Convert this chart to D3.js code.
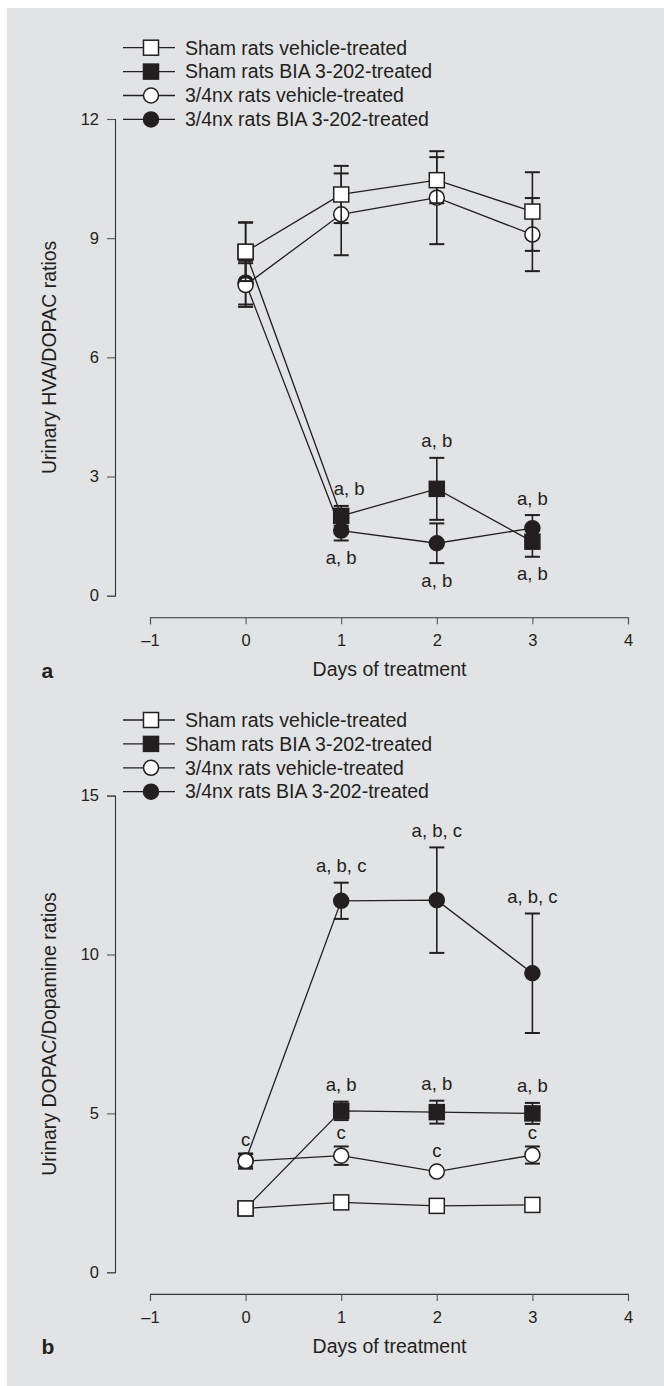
<!DOCTYPE html>
<html>
<head>
<meta charset="utf-8">
<script src="https://cdn.jsdelivr.net/npm/d3@7"></script>
<style>
  html, body { margin: 0; padding: 0; background: #fff; }
  svg { display: block; }
  text { font-family: "Liberation Sans", Arial, Helvetica, sans-serif; fill: #231f20; }
</style>
</head>
<body>
<div id="chart"></div>
<script>
// ---- data ----
const days   = [0, 1, 2, 3]
const xTicks = [-1, 0, 1, 2, 3, 4]

const seriesNames = [
  "Sham rats vehicle-treated",
  "Sham rats BIA 3-202-treated",
  "3/4nx rats vehicle-treated",
  "3/4nx rats BIA 3-202-treated"
]

// panel a: urinary HVA/DOPAC ratios (mean, sem)
const hvaShamVeh    = [8.66, 10.10, 10.46, 9.67]
const hvaShamVehErr = [0.74, 0.72, 0.58, 0.99]
const hvaShamBia    = [8.65, 2.01, 2.69, 1.36]
const hvaShamBiaErr = [0.74, 0.25, 0.78, 0.38]
const hvaNxVeh      = [7.82, 9.60, 10.02, 9.09]
const hvaNxVehErr   = [0.55, 1.03, 1.17, 0.92]
const hvaNxBia      = [7.88, 1.64, 1.32, 1.70]
const hvaNxBiaErr   = [0.55, 0.25, 0.50, 0.33]
const hvaTicks      = [0, 3, 6, 9, 12]

// panel b: urinary DOPAC/dopamine ratios (mean, sem)
const dopShamVeh    = [2.01, 2.20, 2.09, 2.12]
const dopShamVehErr = [0.10, 0.10, 0.10, 0.10]
const dopShamBia    = [2.01, 5.08, 5.04, 5.00]
const dopShamBiaErr = [0.10, 0.29, 0.36, 0.33]
const dopNxVeh      = [3.50, 3.67, 3.17, 3.69]
const dopNxVehErr   = [0.24, 0.29, 0.00, 0.27]
const dopNxBia      = [3.52, 11.69, 11.71, 9.41]
const dopNxBiaErr   = [0.20, 0.57, 1.66, 1.88]
const dopTicks      = [0, 5, 10, 15]

// significance letters: series index, day, side of the point
const hvaNotes = [
  {s: 1, day: 1, side: "above", text: "a, b"},
  {s: 3, day: 1, side: "below", text: "a, b"},
  {s: 1, day: 2, side: "above", text: "a, b"},
  {s: 3, day: 2, side: "below", text: "a, b"},
  {s: 3, day: 3, side: "above", text: "a, b"},
  {s: 1, day: 3, side: "below", text: "a, b"}
]
const dopNotes = [
  {s: 3, day: 1, side: "above", text: "a, b, c"},
  {s: 3, day: 2, side: "above", text: "a, b, c"},
  {s: 3, day: 3, side: "above", text: "a, b, c"},
  {s: 1, day: 1, side: "above", text: "a, b"},
  {s: 1, day: 2, side: "above", text: "a, b"},
  {s: 1, day: 3, side: "above", text: "a, b"},
  {s: 2, day: 0, side: "above", text: "c"},
  {s: 2, day: 1, side: "above", text: "c"},
  {s: 2, day: 2, side: "above", text: "c"},
  {s: 2, day: 3, side: "above", text: "c"}
]

// ---- layout ----
const width  = 664
const height = 1386
const ink    = "#231f20"
const markerSize = 15
const capHalf    = 7.5

// marker style per series index: square/circle, open/filled
const markerShape = ["square", "square", "circle", "circle"]
const markerFill  = ["#fff", ink, "#fff", ink]
// filled series first so open markers sit on top
const drawOrder   = [3, 1, 2, 0]

const panels = [
  {
    label: "a", offset: 0, legendTop: 47.7,
    yTitle: "Urinary HVA/DOPAC ratios", ticks: hvaTicks,
    values: [hvaShamVeh, hvaShamBia, hvaNxVeh, hvaNxBia],
    errors: [hvaShamVehErr, hvaShamBiaErr, hvaNxVehErr, hvaNxBiaErr],
    notes: hvaNotes, nudge: {"1-1-above": 8}
  },
  {
    label: "b", offset: 676.6, legendTop: 43.4,
    yTitle: "Urinary DOPAC/Dopamine ratios", ticks: dopTicks,
    values: [dopShamVeh, dopShamBia, dopNxVeh, dopNxBia],
    errors: [dopShamVehErr, dopShamBiaErr, dopNxVehErr, dopNxBiaErr],
    notes: dopNotes, nudge: {}
  }
]

const svg = d3.select("#chart")
  .append("svg")
  .attr("width", width)
  .attr("height", height)

// grey page panel
svg.append("rect")
  .attr("x", 7).attr("y", 8)
  .attr("width", width - 7).attr("height", height - 8)
  .attr("fill", "#e2e3e5")

let x = d3.scaleLinear().domain([-1, 4]).range([150, 628])

function drawMarker(g, shape, fill, cx, cy) {
  if (shape == "square") {
    g.append("rect")
      .attr("x", cx - markerSize / 2).attr("y", cy - markerSize / 2)
      .attr("width", markerSize).attr("height", markerSize)
      .attr("fill", fill).attr("stroke", ink).attr("stroke-width", 1.5)
  } else {
    g.append("circle")
      .attr("cx", cx).attr("cy", cy).attr("r", markerSize / 2)
      .attr("fill", fill).attr("stroke", ink).attr("stroke-width", 1.5)
  }
}

function styleAxis(ag) {
  ag.attr("font-size", 16.5).attr("font-family", null)
  ag.select(".domain").attr("stroke", "#333").attr("stroke-width", 1.1)
  ag.selectAll(".tick line").attr("stroke", "#555").attr("stroke-width", 1.1)
  ag.selectAll(".tick text")
    .style("font-size", "16.5px")
    .style("fill", ink)
}

panels.forEach(function(p) {
  let g = svg.append("g").attr("transform", "translate(0," + p.offset + ")")

  let yMax = d3.max(p.ticks)
  let y = d3.scaleLinear().domain([0, yMax]).range([595.7, 119])

  // y axis
  let yAxis = d3.axisLeft(y)
    .tickValues(p.ticks)
    .tickSizeOuter(0)
    .tickSize(8)
    .tickPadding(8)

  let yg = g.append("g")
    .attr("transform", "translate(115,0)")
    .call(yAxis)
  styleAxis(yg)

  // x axis
  let xAxis = d3.axisBottom(x)
    .tickValues(xTicks)
    .tickSizeOuter(0)
    .tickSize(7)
    .tickPadding(10)
    .tickFormat(function(d){ return d < 0 ? "\u2013" + Math.abs(d) : d })

  let xg = g.append("g")
    .attr("transform", "translate(0,617.3)")
    .call(xAxis)
  styleAxis(xg)

  // titles
  g.append("text")
    .attr("x", 389.5).attr("y", 676.3)
    .attr("text-anchor", "middle")
    .style("font-size", "19.5px")
    .text("Days of treatment")

  g.append("text")
    .attr("transform", "translate(56," + y(yMax / 2) + ") rotate(-90)")
    .attr("text-anchor", "middle")
    .style("font-size", "19.5px")
    .text(p.yTitle)

  g.append("text")
    .attr("x", 41.5).attr("y", 677.5)
    .style("font-size", "21px")
    .style("font-weight", "bold")
    .text(p.label)

  // series: line, error bars, markers
  drawOrder.forEach(function(s) {
    let vals = p.values[s]
    let errs = p.errors[s]
    let pts = days.map(function(d, i){ return {x: d, y: vals[i], e: errs[i]} })

    let line = d3.line()
      .x(function(d){ return x(d.x) })
      .y(function(d){ return y(d.y) })

    g.append("path")
      .datum(pts)
      .attr("d", line)
      .attr("fill", "none")
      .attr("stroke", ink)
      .attr("stroke-width", 1.3)

    pts.forEach(function(d) {
      if (d.e > 0) {
        let cx = x(d.x)
        let top = y(d.y + d.e)
        let bot = y(d.y - d.e)
        g.append("line")
          .attr("x1", cx).attr("x2", cx).attr("y1", top).attr("y2", bot)
          .attr("stroke", ink).attr("stroke-width", 1.6)
        ;[top, bot].forEach(function(cy) {
          g.append("line")
            .attr("x1", cx - capHalf).attr("x2", cx + capHalf)
            .attr("y1", cy).attr("y2", cy)
            .attr("stroke", ink).attr("stroke-width", 2)
        })
      }
      drawMarker(g, markerShape[s], markerFill[s], x(d.x), y(d.y))
    })
  })

  // significance letters
  p.notes.forEach(function(n) {
    let i = days.indexOf(n.day)
    let v = p.values[n.s][i]
    let e = p.errors[n.s][i]
    let cx = x(n.day) + (p.nudge[n.s + "-" + n.day + "-" + n.side] || 0)
    let ty
    if (n.side == "above") {
      let top = Math.min(y(v + e), y(v) - markerSize / 2)
      ty = top - (n.text == "c" ? 7 : 10.5)
    } else {
      let bot = Math.max(y(v - e), y(v) + markerSize / 2)
      ty = bot + 23.5
    }
    g.append("text")
      .attr("x", cx).attr("y", ty)
      .attr("text-anchor", "middle")
      .style("font-size", "18.5px")
      .text(n.text)
  })

  // legend
  seriesNames.forEach(function(name, s) {
    let ly = p.legendTop + s * 23.9
    g.append("line")
      .attr("x1", 123).attr("x2", 175).attr("y1", ly).attr("y2", ly)
      .attr("stroke", ink).attr("stroke-width", 1.3)
    drawMarker(g, markerShape[s], markerFill[s], 151, ly)
    g.append("text")
      .attr("x", 185).attr("y", ly + 6.8)
      .style("font-size", "19.5px")
      .text(name)
  })
})
</script>
</body>
</html>
